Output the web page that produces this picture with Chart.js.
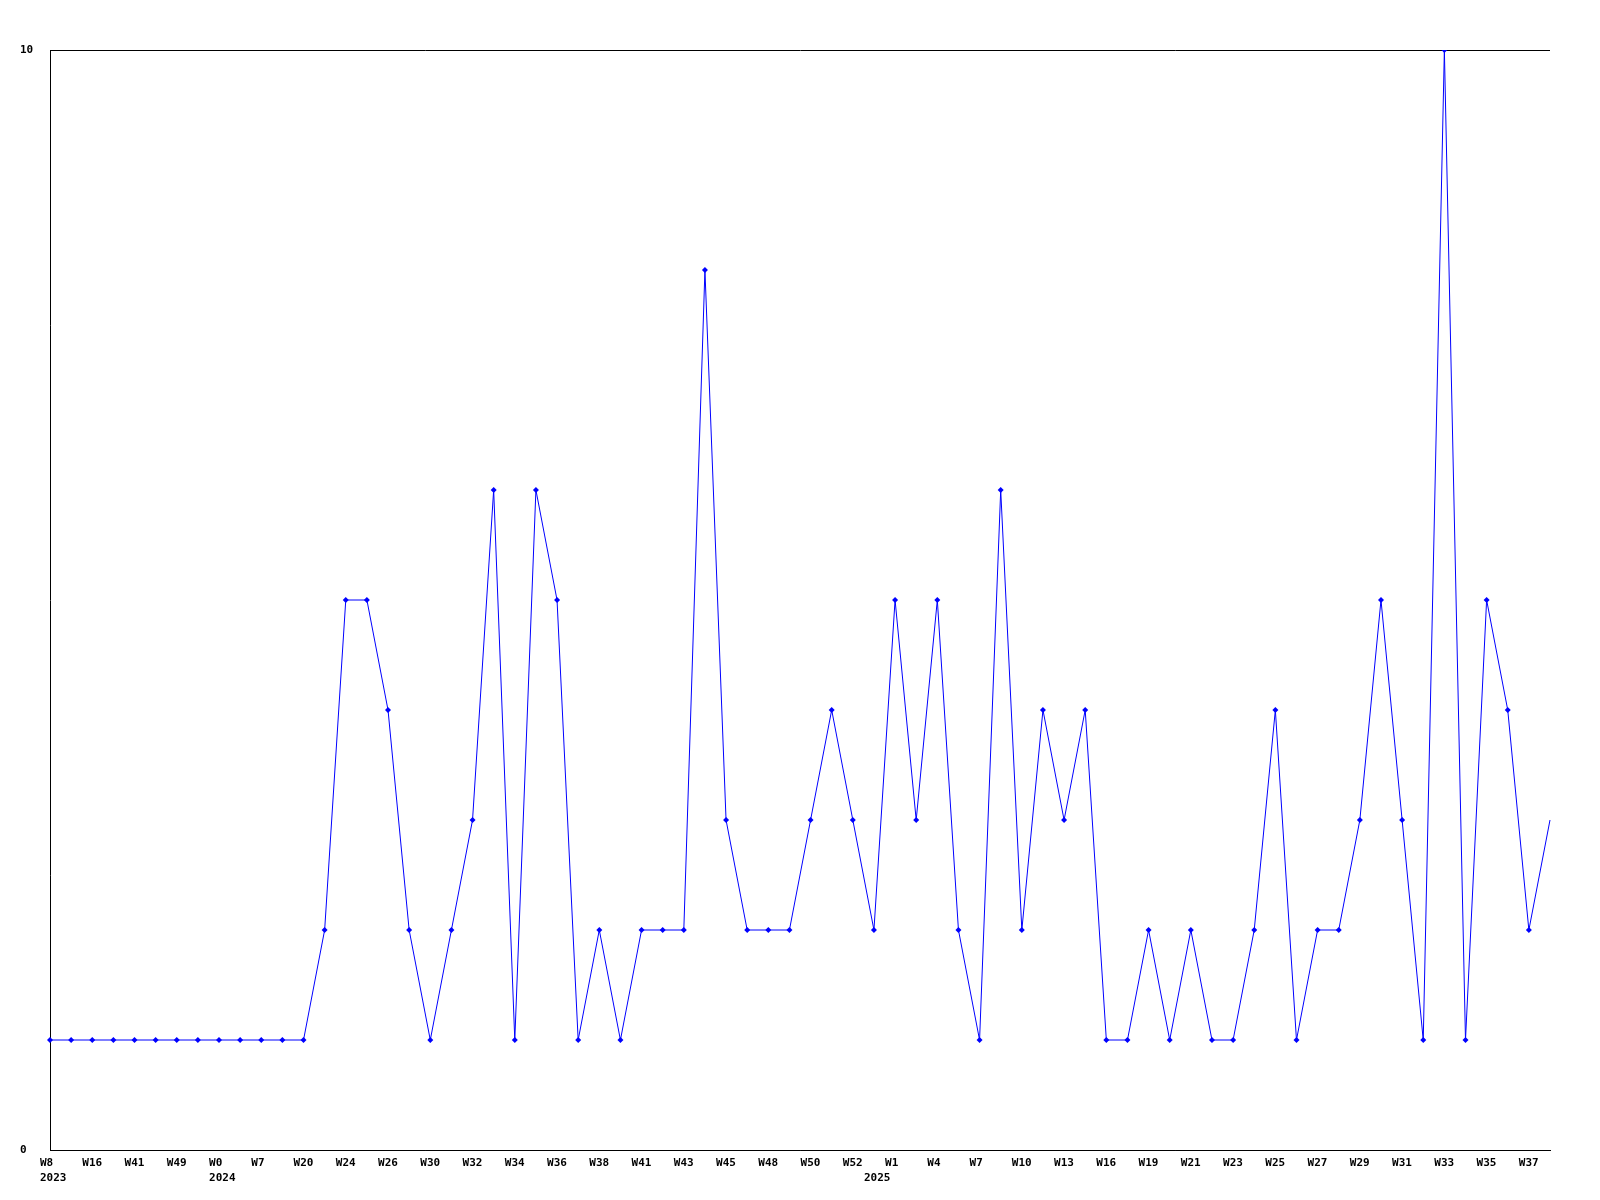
<!DOCTYPE html>
<html>
<head>
<meta charset="utf-8">
<script src="https://cdn.jsdelivr.net/npm/chart.js@4"></script>
<style>
  html, body { margin: 0; padding: 0; background: #fff; }
  #wrap { width: 1600px; height: 1200px; }
</style>
</head>
<body>
<div id="wrap"><canvas id="chart" width="1600" height="1200"></canvas></div>
<script>
// --- Data ---
const values = [
  1, 1, 1, 1, 1, 1, 1, 1, 1, 1, 1, 1, 1, 2, 5, 5, 4, 2, 1, 2,
  3, 6, 1, 6, 5, 1, 2, 1, 2, 2, 2, 8, 3, 2, 2, 2, 3, 4, 3, 2,
  5, 3, 5, 2, 1, 6, 2, 4, 3, 4, 1, 1, 2, 1, 2, 1, 1, 2, 4, 1,
  2, 2, 3, 5, 3, 1, 10, 1, 5, 4, 2, 3,
];

// one label every second point
const weekLabels = [
  'W8', 'W16', 'W41', 'W49', 'W0', 'W7', 'W20', 'W24', 'W26', 'W30',
  'W32', 'W34', 'W36', 'W38', 'W41', 'W43', 'W45', 'W48', 'W50', 'W52',
  'W1', 'W4', 'W7', 'W10', 'W13', 'W16', 'W19', 'W21', 'W23', 'W25',
  'W27', 'W29', 'W31', 'W33', 'W35', 'W37',
];
// year label -> point index it sits under
const yearLabels = { 0: '2023', 8: '2024', 39: '2025' };
const yTicks = [0, 10];

const categories = values.map((_, i) => i % 2 === 0 ? weekLabels[i / 2] : '');

const FONT = 'bold 11px "DejaVu Sans Mono", "Liberation Mono", monospace';

// draws the axis labels the old-school way: left aligned near each tick
const labelPlugin = {
  id: 'labels',
  afterDraw(chart) {
    const ctx = chart.ctx;
    const x = chart.scales.x;
    const y = chart.scales.y;
    ctx.save();
    ctx.font = FONT;
    ctx.fillStyle = '#000';
    ctx.textBaseline = 'middle';
    ctx.textAlign = 'left';
    weekLabels.forEach((lbl, k) => {
      ctx.fillText(lbl, x.getPixelForValue(k * 2) - 10, y.bottom + 13);
    });
    Object.keys(yearLabels).forEach(i => {
      ctx.fillText(yearLabels[i], x.getPixelForValue(+i) - 10, y.bottom + 28);
    });
    yTicks.forEach(v => {
      ctx.fillText(String(v), 20, y.getPixelForValue(v));
    });
    ctx.restore();
  },
};

new Chart(document.getElementById('chart'), {
  type: 'line',
  data: {
    labels: categories,
    datasets: [{
      data: values,
      borderColor: '#0000ff',
      backgroundColor: '#0000ff',
      borderWidth: 1,
      pointStyle: 'rectRot',
      pointRadius: (c) => c.dataIndex === values.length - 1 ? 0 : 3,
      pointBorderWidth: 0,
      tension: 0,
      fill: false,
    }],
  },
  options: {
    responsive: false,
    animation: false,
    layout: { padding: { left: 50, top: 50, right: 50, bottom: 50 } },
    plugins: {
      legend: { display: false },
      tooltip: { enabled: false },
    },
    scales: {
      x: {
        offset: false,
        ticks: { display: false },
        grid: { display: false, drawTicks: false },
        border: { display: true, color: '#000', width: 1 },
      },
      y: {
        min: 0,
        max: 10,
        afterBuildTicks: (s) => { s.ticks = yTicks.map(v => ({ value: v })); },
        ticks: { display: false },
        grid: { color: '#000', lineWidth: 1, drawTicks: false },
        border: { display: true, color: '#000', width: 1 },
      },
    },
  },
  plugins: [labelPlugin],
});
</script>
</body>
</html>
